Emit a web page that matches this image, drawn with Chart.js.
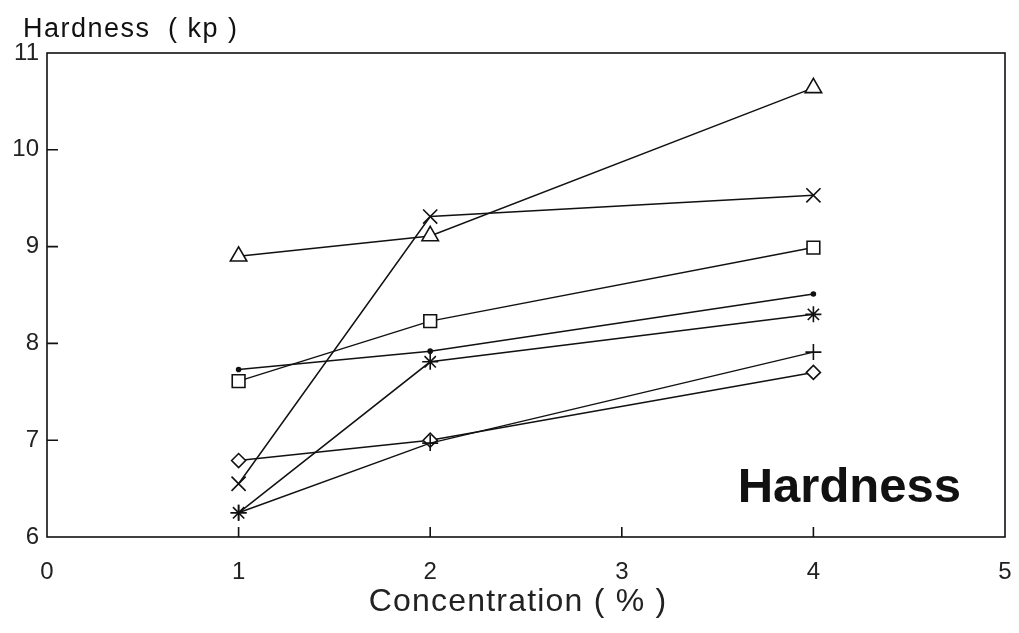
<!DOCTYPE html>
<html>
<head>
<meta charset="utf-8">
<script src="https://cdn.jsdelivr.net/npm/chart.js@4"></script>
<style>
  body { margin: 0; background: #fff; }
  #wrap { width: 1019px; height: 633px; }
</style>
</head>
<body>
<div id="wrap"><canvas id="grafico1" width="1019" height="633"></canvas></div>
<script>
const ctx = document.getElementById('grafico1')

// concentration (%) on the x axis
let concentracao = [1, 2, 4]

// hardness (kp) for each series, one per marker
let triangulo = [8.90, 9.11, 10.64]
let xis = [6.55, 9.31, 9.53]
let quadrado = [7.61, 8.23, 8.99]
let ponto = [7.73, 7.92, 8.51]
let estrela = [6.25, 7.81, 8.30]
let mais = [6.25, 6.97, 7.91]
let losango = [6.79, 7.00, 7.70]

let ticksX = [0, 1, 2, 3, 4, 5]
let ticksY = [6, 7, 8, 9, 10, 11]

const fonte = "'Liberation Sans', Arial, sans-serif"

const serie = (valores, estilo, raio) => ({
    data: valores.map((v, i) => ({ x: concentracao[i], y: v })),
    borderColor: '#111',
    borderWidth: 1.5,
    pointStyle: estilo,
    pointRadius: raio,
    pointBorderColor: '#111',
    pointBorderWidth: 1.6,
    pointBackgroundColor: estilo === 'circle' ? '#111' : '#fff',
    tension: 0
})

// frame, inward ticks and the free texts
const moldura = {
    id: 'moldura',
    afterDraw(chart) {
        const c = chart.ctx
        const a = chart.chartArea
        const sx = chart.scales.x
        const sy = chart.scales.y
        c.save()
        c.strokeStyle = '#111'
        c.lineWidth = 1.6
        c.strokeRect(a.left, a.top, a.right - a.left, a.bottom - a.top)
        c.beginPath()
        ticksX.slice(1, -1).forEach(t => {
            const px = sx.getPixelForValue(t)
            c.moveTo(px, a.bottom)
            c.lineTo(px, a.bottom - 10)
        })
        ticksY.slice(1, -1).forEach(t => {
            const py = sy.getPixelForValue(t)
            c.moveTo(a.left, py)
            c.lineTo(a.left + 11, py)
        })
        c.stroke()

        c.fillStyle = '#111'
        c.textBaseline = 'middle'
        c.font = '27px ' + fonte
        c.letterSpacing = '1.5px'
        c.textAlign = 'left'
        c.fillText('Hardness', 23, 30)
        c.fillText('( kp )', 168, 30)

        c.fillStyle = '#222'
        c.font = '32px ' + fonte
        c.letterSpacing = '1.2px'
        c.textAlign = 'center'
        c.fillText('Concentration ( % )', 518, 602)

        c.fillStyle = '#111'
        c.letterSpacing = '0px'
        c.font = 'bold 49px ' + fonte
        c.textAlign = 'right'
        c.fillText('Hardness', 961, 488)
        c.restore()
    }
}

let grafico1 = new Chart(ctx, {
    type: 'line',
    data: {
        datasets: [
            serie(triangulo, 'triangle', 9.5),
            serie(xis, 'crossRot', 10),
            serie(quadrado, 'rect', 9),
            serie(ponto, 'circle', 2),
            serie(estrela, 'star', 8),
            serie(mais, 'cross', 8),
            serie(losango, 'rectRot', 7)
        ]
    },
    options: {
        responsive: false,
        animation: false,
        layout: { padding: { top: 53, right: 14, left: 0, bottom: 0 } },
        plugins: {
            legend: { display: false },
            tooltip: { enabled: false }
        },
        scales: {
            x: {
                type: 'linear',
                min: 0,
                max: 5,
                afterBuildTicks: s => { s.ticks = ticksX.map(v => ({ value: v })) },
                afterFit: s => { s.height = 96; s.paddingLeft = 0; s.paddingRight = 0 },
                grid: { display: false, drawTicks: false },
                border: { display: false },
                ticks: {
                    color: '#222',
                    font: { family: fonte, size: 24 },
                    padding: 21
                }
            },
            y: {
                min: 6,
                max: 11,
                afterBuildTicks: s => { s.ticks = ticksY.map(v => ({ value: v })) },
                afterFit: s => { s.width = 47; s.paddingTop = 0; s.paddingBottom = 0 },
                grid: { display: false, drawTicks: false },
                border: { display: false },
                ticks: {
                    color: '#222',
                    font: { family: fonte, size: 24 },
                    padding: 8
                }
            }
        }
    },
    plugins: [moldura]
})
</script>
</body>
</html>
